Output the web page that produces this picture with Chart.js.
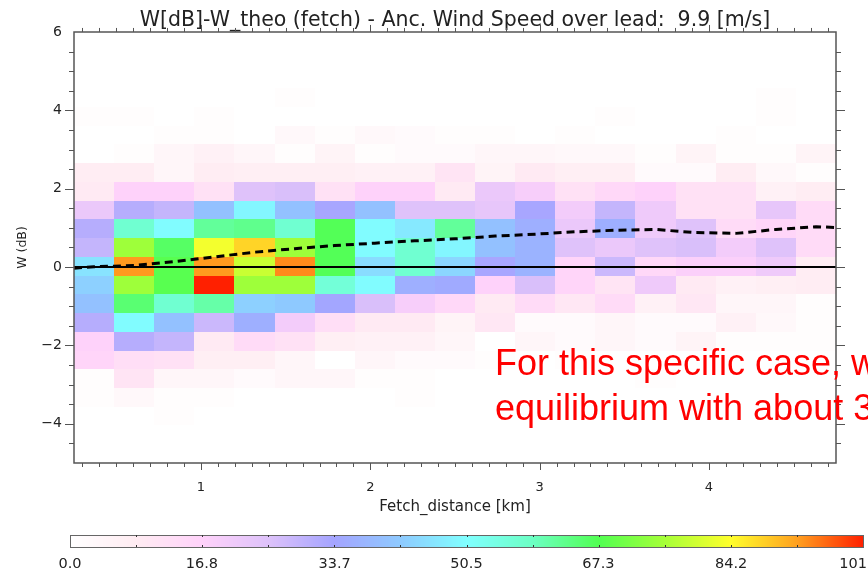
<!DOCTYPE html>
<html><head><meta charset="utf-8">
<script src="https://cdn.jsdelivr.net/npm/chart.js@4/dist/chart.umd.min.js"></script>
<style>html,body{margin:0;padding:0;background:#fff;overflow:hidden}canvas{display:block}</style>
</head><body>
<canvas id="c" width="868" height="576"></canvas>
<script>
// ---------------- DATA ----------------
const titleText = 'W[dB]-W_theo (fetch) - Anc. Wind Speed over lead:  9.9 [m/s]';
const xTitle = 'Fetch_distance [km]';
const yTitle = 'W (dB)';
// bin centres: fetch (km) and W (dB, listed top -> bottom)
const fetchCenters = [0.368, 0.605, 0.842, 1.079, 1.316, 1.553, 1.789, 2.026, 2.263, 2.500, 2.737, 2.974, 3.211, 3.447, 3.684, 3.921, 4.158, 4.395, 4.632];
const wCenters = [5.76, 5.28, 4.80, 4.33, 3.85, 3.37, 2.89, 2.41, 1.93, 1.46, 0.98, 0.50, 0.02, -0.46, -0.93, -1.41, -1.89, -2.37, -2.85, -3.33, -3.80, -4.28, -4.76];
// counts per cell, one row per W bin (top -> bottom), one value per fetch bin
const counts = [
  [0,0,0,0,0,0,0,0,0,0,0,0,0,0,0,0,0,0,0],
  [0,0,0,0,0,0,0,0,0,0,0,0,0,0,0,0,0,0,0],
  [0,0,0,0,0,0,0,0,0,0,0,0,0,0,0,0,0,0,0],
  [0,0,0,0,0,1,0,0,0,0,0,0,0,0,0,0,0,1,0],
  [1,1,0,1,0,0,0,0,0,0,0,0,0,1,0,0,0,1,0],
  [0,0,1,1,0,3,1,3,2,1,1,0,1,0,0,0,1,0,0],
  [0,1,4,6,4,1,5,1,2,2,4,4,3,3,1,5,1,1,5],
  [8,8,4,8,7,7,7,6,6,11,5,9,7,7,2,2,8,3,1],
  [9,17,17,12,25,26,12,17,17,9,22,19,12,15,17,12,12,6,8],
  [22,31,29,40,49,40,33,40,25,25,23,33,20,29,21,12,12,23,14],
  [31,57,50,62,63,57,67,50,47,62,40,36,22,36,21,25,14,16,14],
  [29,75,66,83,88,75,67,50,57,49,40,37,25,22,25,26,20,25,14],
  [46,93,68,93,79,94,67,45,57,44,33,37,16,28,15,18,18,21,8],
  [43,75,68,101,75,75,56,50,36,35,17,26,16,11,21,9,6,7,8],
  [40,65,57,61,43,42,34,26,19,15,9,14,10,14,6,10,4,4,1],
  [31,50,40,28,36,20,13,9,9,5,10,2,2,4,2,2,6,3,1],
  [17,31,29,9,14,12,7,6,6,4,0,4,2,4,2,5,1,1,1],
  [16,13,12,7,7,4,0,4,2,2,1,0,1,0,0,0,0,0,0],
  [1,11,4,4,2,4,4,1,1,0,0,0,0,0,1,0,0,0,0],
  [1,3,1,1,0,0,0,0,1,0,0,0,0,0,0,0,0,0,0],
  [0,0,1,0,0,0,0,0,0,0,0,0,0,0,0,0,0,0,0],
  [0,0,0,0,0,0,0,0,0,0,0,0,0,0,0,0,0,0,0],
  [0,0,0,0,0,0,0,0,0,0,0,0,0,0,0,0,0,0,0]
];
// mean curve (dashed)
const meanFetch = [0.25, 0.368, 0.605, 0.842, 1.079, 1.316, 1.553, 1.789, 2.026, 2.263, 2.500, 2.737, 2.974, 3.211, 3.447, 3.684, 3.921, 4.158, 4.395, 4.632, 4.75];
const meanW = [-0.03, 0.01, 0.04, 0.14, 0.26, 0.38, 0.47, 0.55, 0.61, 0.67, 0.72, 0.79, 0.84, 0.90, 0.94, 0.96, 0.88, 0.86, 0.96, 1.03, 1.01];
// zero reference line
const zeroFetch = [0.25, 4.75];
const zeroW = [0, 0];
// axis ticks
const xTickValues = [1, 2, 3, 4];
const yTickValues = [-4, -2, 0, 2, 4, 6];
// colour bar
const cbarMax = 101;
const cbarTickValues = [0, 16.8, 33.7, 50.5, 67.3, 84.2, 101];
const cbarTickLabels = ['0.0', '16.8', '33.7', '50.5', '67.3', '84.2', '101'];
// annotation
const noteLines = ['For this specific case, w', 'equilibrium with about 3'];

// ---------------- STYLE ----------------
const CMAP = [
  [0.00, [255,255,255]], [0.083,[255,236,242]], [0.167,[255,210,250]], [0.25,[222,194,250]],
  [0.333,[164,164,255]], [0.417,[142,202,255]], [0.50,[128,255,255]], [0.583,[108,255,196]],
  [0.667,[82,255,82]], [0.75,[166,255,56]], [0.833,[255,255,44]], [0.917,[255,160,32]], [1.0,[255,32,0]]
];
function cmap(v) {
  const f = Math.max(0, Math.min(1, v / cbarMax));
  for (let i = 1; i < CMAP.length; i++) {
    if (f <= CMAP[i][0]) {
      const a = CMAP[i-1], b = CMAP[i];
      const t = (f - a[0]) / (b[0] - a[0]);
      const c = a[1].map((ch, k) => Math.round(ch + (b[1][k] - ch) * t));
      return `rgb(${c[0]},${c[1]},${c[2]})`;
    }
  }
  const l = CMAP[CMAP.length-1][1];
  return `rgb(${l[0]},${l[1]},${l[2]})`;
}
function edges(c) {
  const e = [c[0] - (c[1] - c[0]) / 2];
  for (let i = 1; i < c.length; i++) e.push((c[i-1] + c[i]) / 2);
  e.push(c[c.length-1] + (c[c.length-1] - c[c.length-2]) / 2);
  return e;
}
const TEXT = '#222';
const AXIS = '#555';
const IDLFONT = '"DejaVu Sans", sans-serif';

const heatmapPlugin = {
  id: 'heatmap',
  beforeDatasetsDraw(chart) {
    const {ctx, chartArea: a, scales: {x, y}} = chart;
    const xe = edges(fetchCenters), ye = edges(wCenters);
    ctx.save();
    ctx.beginPath(); ctx.rect(a.left, a.top, a.width, a.height); ctx.clip();
    counts.forEach((row, r) => {
      const y0 = Math.round(y.getPixelForValue(ye[r]));
      const y1 = Math.round(y.getPixelForValue(ye[r+1]));
      row.forEach((v, i) => {
        const x0 = Math.round(x.getPixelForValue(xe[i]));
        const x1 = Math.round(x.getPixelForValue(xe[i+1]));
        ctx.fillStyle = cmap(v);
        ctx.fillRect(x0, Math.min(y0, y1), x1 - x0, Math.abs(y1 - y0));
      });
    });
    ctx.restore();
  }
};

const framePlugin = {
  id: 'frame',
  afterDraw(chart) {
    const {ctx, chartArea: a, scales: {x, y}} = chart;
    ctx.save();
    const seg = (x0, y0, x1, y1) => { ctx.beginPath(); ctx.moveTo(x0, y0); ctx.lineTo(x1, y1); ctx.stroke(); };
    // ticks
    ctx.strokeStyle = AXIS; ctx.lineWidth = 1;
    for (let i = 3; i <= 47; i++) {
      const px = Math.round(x.getPixelForValue(i / 10)) + 0.5;
      const len = (i % 10 === 0) ? 7 : 4;
      seg(px, a.bottom, px, a.bottom + len);
      seg(px, a.top, px, a.top - len);
    }
    for (let i = -9; i <= 11; i++) {
      const py = Math.round(y.getPixelForValue(i / 2)) + 0.5;
      const len = (i % 4 === 0) ? 9 : 5;
      seg(a.left, py, a.left - len, py);
      seg(a.right, py, a.right + len, py);
    }
    // frame
    ctx.strokeStyle = AXIS; ctx.lineWidth = 1.5;
    ctx.strokeRect(Math.round(a.left), Math.round(a.top), Math.round(a.width), Math.round(a.height));

    // colour bar
    const cb = {left: 70, right: 863, top: 535, bottom: 547};
    const w = cb.right - cb.left;
    for (let px = cb.left; px < cb.right; px++) {
      ctx.fillStyle = cmap((px + 0.5 - cb.left) / w * cbarMax);
      ctx.fillRect(px, cb.top, 1, cb.bottom - cb.top);
    }
    ctx.strokeStyle = '#666'; ctx.lineWidth = 1;
    ctx.strokeRect(cb.left + 0.5, cb.top + 0.5, w, cb.bottom - cb.top);
    ctx.strokeStyle = '#333';
    for (let k = 1; k < 12; k++) {
      const px = Math.round(cb.left + k * w / 12) + 0.5;
      seg(px, cb.top, px, cb.top + 2);
      seg(px, cb.bottom, px, cb.bottom - 2);
    }
    ctx.fillStyle = TEXT;
    ctx.font = '14.5px ' + IDLFONT;
    ctx.textBaseline = 'middle'; ctx.textAlign = 'center';
    cbarTickValues.forEach((v, k) => {
      const lab = cbarTickLabels[k];
      const hw = ctx.measureText(lab).width / 2;
      let px = cb.left + v / cbarMax * w;
      px = Math.min(px, chart.width - hw - 1);
      ctx.fillText(lab, px, 564);
    });

    // annotation
    ctx.fillStyle = '#ff0000';
    ctx.font = '36px "Liberation Sans"';
    ctx.textAlign = 'left'; ctx.textBaseline = 'alphabetic';
    ctx.fillText(noteLines[0], 495, 375);
    ctx.fillText(noteLines[1], 495, 420);
    ctx.restore();
  }
};

Chart.defaults.font.family = IDLFONT;
new Chart(document.getElementById('c'), {
  type: 'line',
  data: {
    datasets: [
      { label: 'zero', data: zeroFetch.map((v, i) => ({x: v, y: zeroW[i]})), borderColor: '#000', borderWidth: 2, pointRadius: 0, fill: false },
      { label: 'mean', data: meanFetch.map((v, i) => ({x: v, y: meanW[i]})), borderColor: '#000', borderWidth: 3, borderDash: [8, 5], pointRadius: 0, fill: false, tension: 0 }
    ]
  },
  options: {
    responsive: false, animation: false, events: [],
    layout: {padding: {left: 0, right: 32, top: 0, bottom: 0}},
    plugins: {
      legend: {display: false}, tooltip: {enabled: false},
      title: {display: true, text: titleText, color: TEXT, fullSize: false,
        font: {size: 20.5, weight: 'normal', lineHeight: 1.12}, padding: {top: 9, bottom: 0}}
    },
    scales: {
      x: {
        type: 'linear', min: 0.25, max: 4.75, position: 'bottom',
        afterBuildTicks: s => { s.ticks = xTickValues.map(v => ({value: v})); },
        afterFit: s => { s.height = 113; },
        grid: {display: false, drawTicks: false}, border: {display: false},
        ticks: {color: TEXT, font: {size: 13}, padding: 17, maxRotation: 0, autoSkip: false, callback: v => String(v)},
        title: {display: true, text: xTitle, color: TEXT, font: {size: 15}, padding: {top: 0, bottom: 60}}
      },
      y: {
        type: 'linear', min: -5, max: 6, position: 'left',
        afterBuildTicks: s => { s.ticks = yTickValues.map(v => ({value: v})); },
        afterFit: s => { s.width = 74; },
        grid: {display: false, drawTicks: false}, border: {display: false},
        ticks: {color: TEXT, font: {size: 14}, padding: 12, autoSkip: false,
          callback: v => (v < 0 ? '\u2212' + Math.abs(v) : String(v))},
        title: {display: true, text: yTitle, color: TEXT, font: {size: 12.5}, padding: {top: 15, bottom: 0}}
      }
    }
  },
  plugins: [heatmapPlugin, framePlugin]
});
</script>
</body></html>
